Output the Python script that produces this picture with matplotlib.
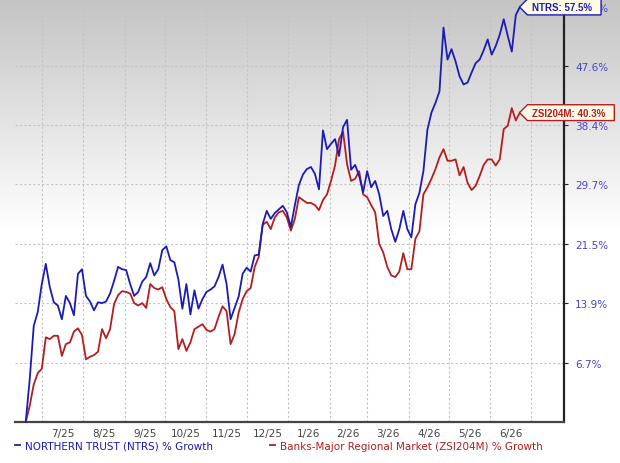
import matplotlib
matplotlib.use('Agg')
import matplotlib.pyplot as plt
from matplotlib.path import Path
import numpy as np
import pandas as pd

# % growth, sampled every 3 days from 2025-06-19
ntrs = [0.0, 4.8, 11.1, 12.8, 16.3, 18.9, 15.9, 14.0, 13.6, 11.9,
        14.8, 13.9, 12.4, 17.6, 18.2, 14.8, 14.1, 13.0, 14.0, 13.9,
        14.1, 15.1, 16.7, 18.5, 18.2, 18.1, 16.3, 14.8, 15.3, 16.6,
        17.2, 19.0, 17.4, 18.2, 20.7, 21.2, 19.4, 19.1, 16.9, 13.2,
        16.3, 12.5, 15.5, 13.2, 14.4, 15.3, 15.6, 16.0, 17.2, 18.8,
        16.3, 11.9, 13.3, 14.7, 17.6, 18.4, 17.9, 20.0, 20.1, 24.2,
        26.0, 24.9, 25.7, 26.2, 26.7, 25.8, 23.8, 26.8, 29.6, 31.1,
        31.9, 32.2, 31.2, 29.0, 37.6, 34.8, 35.6, 36.3, 33.8, 38.1,
        39.2, 31.8, 32.5, 30.9, 28.6, 31.6, 29.3, 30.2, 28.3, 25.3,
        26.0, 23.5, 21.8, 23.5, 26.0, 23.5, 22.4, 26.9, 28.5, 31.6,
        37.7, 40.3, 41.8, 43.6, 54.0, 48.7, 50.4, 48.4, 46.0, 44.7,
        45.0, 46.6, 48.1, 48.7, 50.2, 52.0, 49.5, 50.9, 52.8, 55.4,
        52.6, 50.0, 56.1, 57.5]

zsi = [0.0, 1.8, 4.2, 5.5, 6.0, 9.7, 9.5, 9.9, 9.9, 7.5,
       8.9, 9.1, 10.4, 10.8, 10.0, 7.1, 7.4, 7.6, 8.0, 10.7,
       9.6, 10.7, 13.8, 14.9, 15.4, 15.3, 15.1, 13.9, 13.6, 13.9,
       13.3, 16.3, 15.8, 15.6, 15.9, 14.4, 13.4, 12.9, 8.3, 9.5,
       8.1, 9.1, 10.7, 11.0, 11.3, 10.6, 10.4, 10.7, 12.2, 13.5,
       12.9, 8.9, 10.1, 12.7, 14.4, 15.4, 15.8, 18.5, 19.8, 24.1,
       24.5, 23.5, 25.1, 25.8, 26.0, 25.1, 23.3, 24.9, 27.9, 27.5,
       27.1, 27.1, 26.8, 26.1, 27.5, 28.3, 30.2, 32.4, 36.3, 37.4,
       32.6, 30.2, 30.5, 31.6, 28.3, 27.9, 26.8, 25.8, 21.5, 20.4,
       18.5, 17.4, 17.2, 17.9, 20.3, 18.2, 18.2, 22.2, 23.2, 28.3,
       29.3, 30.5, 31.9, 33.6, 34.8, 33.1, 33.1, 33.3, 31.0, 32.2,
       29.9, 28.9, 29.5, 30.9, 32.5, 33.3, 33.3, 32.4, 33.3, 37.8,
       38.3, 41.0, 39.1, 40.3]

month_labels = ['7/25', '8/25', '9/25', '10/25', '11/25', '12/25',
                '1/26', '2/26', '3/26', '4/26', '5/26', '6/26']
y_ticks = [6.7, 13.9, 21.5, 29.7, 38.4, 47.6, 57.5]

dates = pd.date_range('2025-06-19', periods=len(ntrs), freq='3D')
month_starts = pd.date_range('2025-07-01', '2026-07-01', freq='MS')
mids = month_starts[:-1] + (month_starts[1:] - month_starts[:-1]) / 2

blue = '#1c1cb4'
red = '#b41e1e'

fig = plt.figure(figsize=(6.2, 4.64), dpi=100)

# grey-to-white background
bg = fig.add_axes([0, 0, 1, 1])
bg.set_zorder(-1)
rows = np.arange(464)
shade = np.clip(0.77 + 0.23 * rows / 230, 0, 1)
grad = np.repeat(shade[:, None, None], 3, axis=2)
bg.imshow(grad, aspect='auto', extent=[0, 1, 0, 1])
bg.axis('off')

ax = fig.add_axes([15 / 620, 41 / 464, 549 / 620, 415 / 464])
ax.set_facecolor('none')
ax.set_yscale('function', functions=(lambda v: np.log1p(np.asarray(v) / 100),
                                     lambda u: np.expm1(u) * 100))

ax.plot(dates, ntrs, color=blue, lw=1.3, clip_on=False, zorder=4,
        label='NORTHERN TRUST (NTRS) % Growth')
ax.plot(dates, zsi, color=red, lw=1.3, clip_on=False, zorder=3,
        label='Banks-Major Regional Market (ZSI204M) % Growth')

ax.set_ylim(0, 57.5)
ax.set_xlim(pd.Timestamp('2025-06-11'), pd.Timestamp('2026-07-26'))

ax.yaxis.tick_right()
ax.set_yticks(y_ticks)
ax.set_yticklabels([f'{v}%' for v in y_ticks])
ax.yaxis.set_minor_locator(matplotlib.ticker.NullLocator())
ax.tick_params(axis='y', colors='#222', labelcolor='#4545cc', labelsize=7.5,
               length=3, pad=5)

ax.set_xticks(month_starts)
ax.set_xticklabels([''] * len(month_starts))
ax.set_xticks(mids, minor=True)
ax.set_xticklabels(month_labels, minor=True)
ax.tick_params(axis='x', which='both', length=0, labelsize=7.5,
               labelcolor='#444', pad=4)

ax.grid(True, which='major', color='#c4c4c4', lw=0.8, ls=(0, (2, 2)))

for s in ['left', 'top']:
    ax.spines[s].set_visible(False)
ax.spines['right'].set_color('#222')
ax.spines['right'].set_linewidth(1.6)
ax.spines['bottom'].set_color('#444')
ax.spines['bottom'].set_linewidth(1.6)


def tag_box(x0, y0, width, height, mutation_size):
    # rectangle with a pointed left side
    left, right, vpad = 0.5 * mutation_size, 0.9 * mutation_size, 0.3 * mutation_size
    xa, xb = x0 - left, x0 + width + right
    ya, yb = y0 - vpad, y0 + height + vpad
    tip = (yb - ya) * 0.5
    return Path([(xa, ya), (xb, ya), (xb, yb), (xa, yb),
                 (xa - tip, (ya + yb) / 2), (xa, ya)], closed=True)


tag_font = dict(family='Liberation Sans', size=7, weight='bold')
ax.annotate(f'NTRS: {ntrs[-1]}%', xy=(dates[-1], ntrs[-1]), xytext=(9, 0),
            textcoords='offset points', ha='left', va='center',
            color=blue, zorder=10, annotation_clip=False, **tag_font,
            bbox=dict(boxstyle=tag_box, fc='#fffbe6', ec=blue, lw=1))
ax.annotate(f'ZSI204M: {zsi[-1]}%', xy=(dates[-1], zsi[-1]), xytext=(9, 0),
            textcoords='offset points', ha='left', va='center',
            color=red, zorder=10, annotation_clip=False, **tag_font,
            bbox=dict(boxstyle=tag_box, fc='#fffbe6', ec=red, lw=1))

fig.legend(loc='lower left', bbox_to_anchor=(15 / 620, 12 / 464), ncol=2,
           frameon=False, fontsize=7.5, handlelength=0.5, handletextpad=0.5,
           columnspacing=5.4, labelcolor='linecolor', borderaxespad=0,
           borderpad=0)

fig.savefig('out.png', dpi=100)
